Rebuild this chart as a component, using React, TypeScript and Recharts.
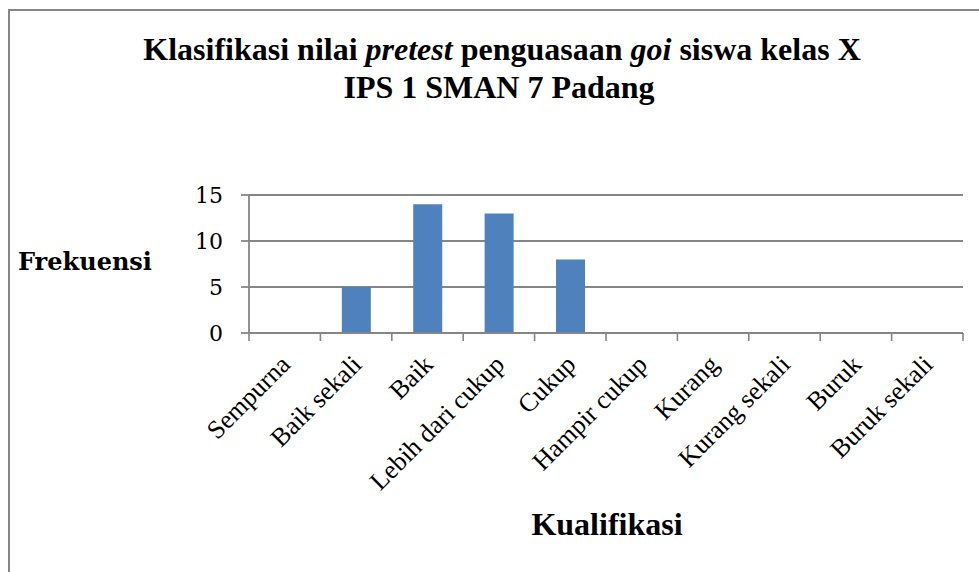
import { BarChart, Bar, XAxis, YAxis, CartesianGrid } from "recharts";

const categories = [
  "Sempurna",
  "Baik sekali",
  "Baik",
  "Lebih dari cukup",
  "Cukup",
  "Hampir cukup",
  "Kurang",
  "Kurang sekali",
  "Buruk",
  "Buruk sekali",
];
const frekuensi = [0, 5, 14, 13, 8, 0, 0, 0, 0, 0];
const yTicks = [0, 5, 10, 15];

const GRID = "#868686";
const BAR = "#4F81BD";
const SERIF = "'Liberation Serif', 'Times New Roman', serif";
const SCHOOLBOOK = "'DejaVu Serif', serif";

const data = categories.map((name, i) => ({ name, value: frekuensi[i] }));

function CategoryTick(props: any) {
  const { x, y, payload, index } = props;
  const half = payload && typeof payload.offset === "number" ? payload.offset : 35.7;
  const axisY = y - 8;
  const tx = x + 1;
  const ty = y + 19;
  return (
    <g>
      <line x1={x - half} x2={x - half} y1={axisY} y2={axisY + 8} stroke={GRID} strokeWidth={1.6} />
      {index === categories.length - 1 && (
        <line x1={x + half} x2={x + half} y1={axisY} y2={axisY + 8} stroke={GRID} strokeWidth={1.6} />
      )}
      <text
        x={tx}
        y={ty}
        transform={`rotate(-45, ${tx}, ${ty})`}
        textAnchor="end"
        dominantBaseline="central"
        style={{ fontFamily: SERIF, fontSize: 26 }}
        fill="#000"
      >
        {payload.value}
      </text>
    </g>
  );
}

function App() {
  return (
    <div
      style={{
        position: "absolute",
        left: 0,
        top: 0,
        width: 979,
        height: 572,
        overflow: "hidden",
        background: "#fff",
      }}
    >
      <div
        style={{
          position: "absolute",
          left: 8,
          top: 9,
          width: 1100,
          height: 700,
          borderLeft: `2px solid ${GRID}`,
          borderTop: `2px solid ${GRID}`,
        }}
      />
      <div style={{ position: "absolute", left: 0, top: 0 }}>
        <BarChart
          width={979}
          height={572}
          data={data}
          margin={{ top: 195, right: 16, bottom: 0, left: 0 }}
          barCategoryGap="30%"
        >
          <CartesianGrid vertical={false} stroke={GRID} strokeWidth={1.8} />
          <XAxis
            dataKey="name"
            height={239}
            interval={0}
            tickLine={false}
            tickSize={8}
            tickMargin={0}
            axisLine={{ stroke: GRID, strokeWidth: 1.8 }}
            tick={<CategoryTick />}
          />
          <YAxis
            width={249}
            domain={[0, 15]}
            ticks={yTicks}
            interval={0}
            tickSize={8}
            tickMargin={18}
            axisLine={{ stroke: GRID, strokeWidth: 1.8 }}
            tickLine={{ stroke: GRID, strokeWidth: 1.8 }}
            tick={{ fontFamily: SCHOOLBOOK, fontSize: 22, fill: "#000" }}
          />
          <Bar dataKey="value" fill={BAR} isAnimationActive={false} />
        </BarChart>
      </div>
      <svg
        width={979}
        height={572}
        style={{ position: "absolute", left: 0, top: 0, pointerEvents: "none" }}
      >
        <text
          x={502}
          y={60}
          textAnchor="middle"
          style={{ fontFamily: SERIF, fontWeight: "bold", fontSize: 32 }}
          fill="#000"
        >
          Klasifikasi nilai <tspan fontStyle="italic">pretest</tspan> penguasaan{" "}
          <tspan fontStyle="italic">goi</tspan> siswa kelas X
        </text>
        <text
          x={499}
          y={98}
          textAnchor="middle"
          style={{ fontFamily: SERIF, fontWeight: "bold", fontSize: 32 }}
          fill="#000"
        >
          IPS 1 SMAN 7 Padang
        </text>
        <text
          x={18}
          y={270}
          style={{ fontFamily: SCHOOLBOOK, fontWeight: "bold", fontSize: 25 }}
          textLength={134}
          lengthAdjust="spacingAndGlyphs"
          fill="#000"
        >
          Frekuensi
        </text>
        <text
          x={607}
          y={535}
          textAnchor="middle"
          style={{ fontFamily: SERIF, fontWeight: "bold", fontSize: 32 }}
          fill="#000"
        >
          Kualifikasi
        </text>
      </svg>
    </div>
  );
}

export default App;
